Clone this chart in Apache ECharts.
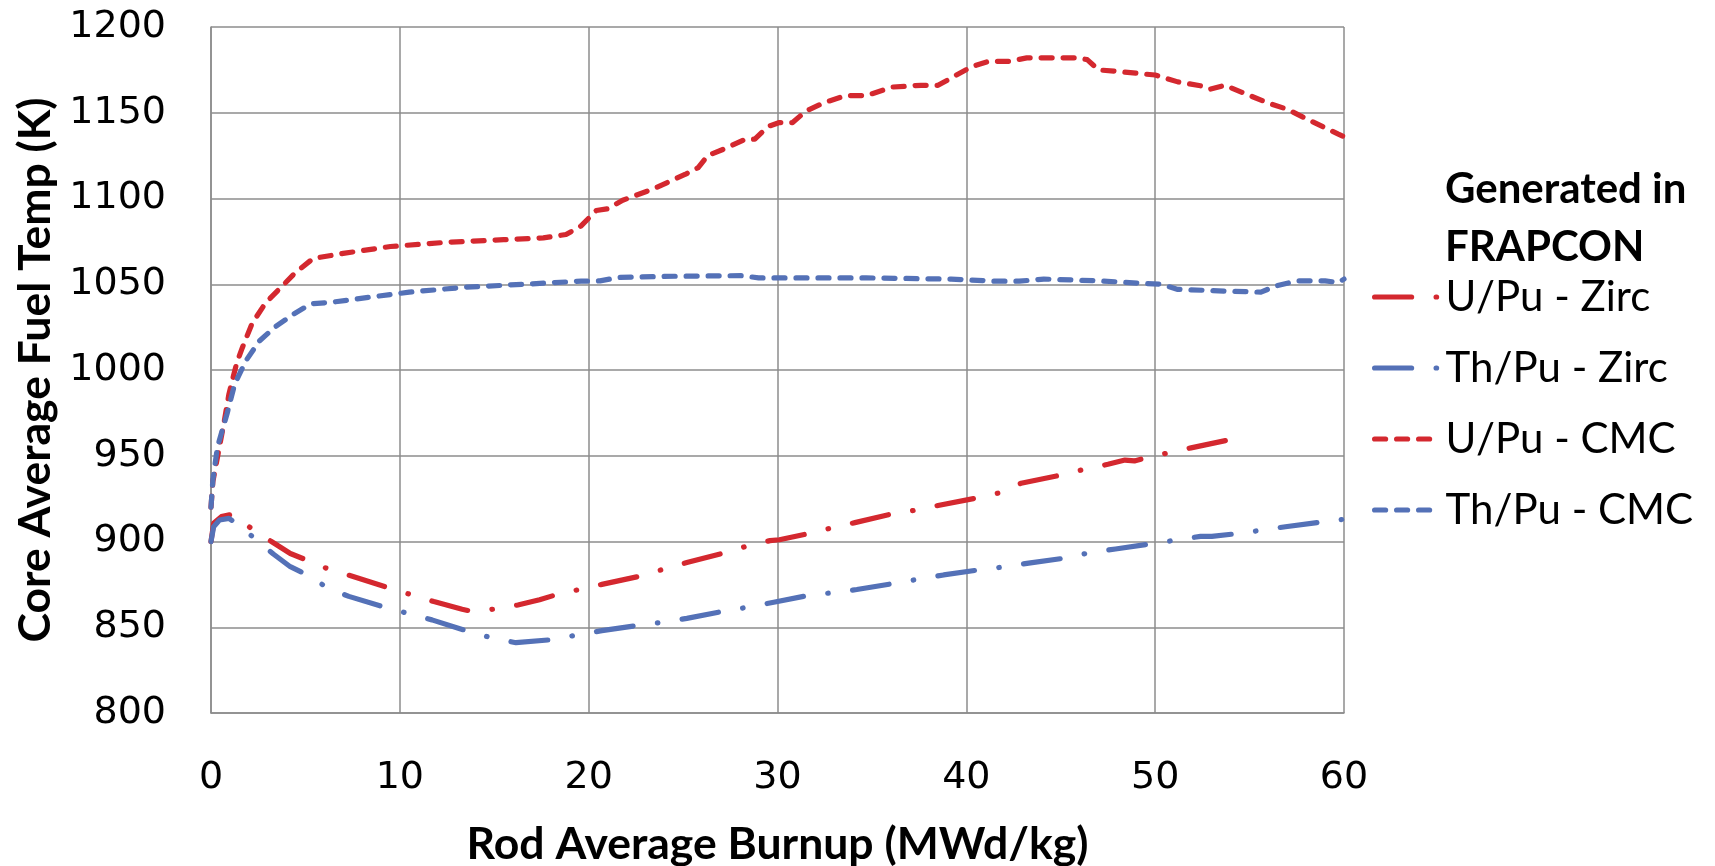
<!DOCTYPE html>
<html>
<head>
<meta charset="utf-8">
<script src="https://cdn.jsdelivr.net/npm/echarts@6/dist/echarts.min.js"></script>
<style>
html,body{margin:0;padding:0;background:#fff;}
#c{width:1715px;height:866px;}
</style>
</head>
<body>
<div id="c"></div>
<script>
// ---- data ----
const seriesNames = ['U/Pu - Zirc', 'Th/Pu - Zirc', 'U/Pu - CMC', 'Th/Pu - CMC'];
const legendTitle = 'Generated in\nFRAPCON';
const xTitle = 'Rod Average Burnup (MWd/kg)';
const yTitle = 'Core Average Fuel Temp (K)';

const upuZircX = [0, 0.14, 0.55, 1.15, 1.4, 2.2, 3.2, 4.2, 5.1, 6.2, 7.4, 9.5, 10.6, 11.8, 13.3, 13.8, 15.1, 16.25, 17.4, 18.4, 19.5, 20.7, 22.8, 24.0, 25.2, 27.3, 28.4, 29.6, 30.1, 31.7, 32.9, 34.1, 36.2, 37.4, 38.5, 40.7, 41.8, 42.9, 45.0, 46.2, 47.5, 48.4, 48.9, 49.6, 50.7, 51.9, 54.0];
const upuZircY = [900, 910.6, 914.5, 916, 914, 907, 900, 893, 889, 884, 880, 872.7, 869, 865, 860.5, 859.3, 860.7, 863, 866, 869.4, 872, 875, 880, 884, 887.7, 893.7, 897.4, 900.5, 901, 904.8, 908, 911, 916.5, 918.4, 921, 925.7, 928.5, 934, 938.7, 942, 945, 947.5, 947, 949, 951.7, 954.6, 959.5];

const thpuZircX = [0, 0.14, 0.45, 0.95, 1.46, 2.4, 3.3, 4.2, 5.2, 6.2, 7.3, 9.4, 10.6, 11.7, 13.8, 15.0, 16.15, 18.3, 19.45, 20.7, 22.8, 24.0, 25.2, 27.3, 28.5, 29.8, 31.8, 33.0, 34.2, 36.4, 37.6, 38.8, 40.9, 42.1, 43.3, 45.4, 46.6, 47.9, 50.0, 51.2, 52.4, 53.0, 54.5, 55.7, 56.9, 59.0, 60];
const thpuZircY = [900, 908.6, 912.5, 913.5, 909.6, 901, 892.7, 885.3, 880, 872.7, 868, 861, 857.6, 854.3, 847, 843.4, 841, 843, 845.7, 848, 851.4, 853, 855.2, 859.7, 861.8, 864.6, 868.9, 870.2, 872, 876, 878.3, 880.5, 883.8, 885.3, 887.4, 890.6, 893.7, 895.6, 899, 901, 903, 903, 904.8, 906.7, 908.6, 911.6, 913];

const upuCmcX = [0, 0.1, 0.34, 0.7, 0.95, 1.36, 1.66, 2.17, 2.88, 3.69, 4.4, 5.4, 7.0, 9.5, 12.5, 15.5, 17.6, 18.8, 19.6, 20.4, 21.0, 21.8, 23.4, 25.1, 25.8, 26.3, 27.2, 28.3, 28.8, 29.5, 30.1, 30.8, 31.5, 32.5, 33.6, 34.7, 36.1, 37.6, 38.5, 39.4, 40.3, 41.2, 42.3, 43.2, 45.9, 46.4, 47.0, 48.1, 49.5, 50.0, 51.2, 52.4, 52.9, 53.7, 54.8, 55.9, 57.0, 58.1, 59.7, 60];
const upuCmcY = [920, 935, 949, 970, 986, 1004, 1013, 1027, 1039, 1048, 1056, 1065, 1068, 1072, 1074.5, 1076, 1077, 1079, 1084, 1093, 1094, 1099, 1105.5, 1114, 1118, 1125, 1129, 1134.6, 1134.6, 1142, 1144.3, 1144.3, 1151, 1156, 1160, 1160, 1165, 1166, 1166, 1171.5, 1177, 1180, 1180, 1182, 1182, 1181, 1175, 1174, 1172.5, 1172, 1168, 1165.7, 1163.7, 1166, 1161, 1156, 1152, 1146, 1137.5, 1136];

const thpuCmcX = [0, 0.1, 0.34, 0.6, 0.85, 1.26, 1.86, 2.57, 3.38, 4.4, 5.3, 6.4, 8.45, 10.5, 13.5, 16.6, 19.6, 20.6, 21.6, 24.7, 28.1, 29.0, 34.7, 39.2, 41.4, 42.8, 44.1, 47.0, 49.2, 50.3, 51.2, 53.7, 55.6, 56.4, 57.5, 59.0, 59.7, 60];
const thpuCmcY = [920, 936, 955, 965, 974.5, 992, 1005.6, 1017, 1025, 1032.8, 1038.6, 1039.5, 1042.5, 1045.4, 1048.3, 1050, 1051.8, 1052, 1054, 1054.7, 1055, 1053.7, 1053.7, 1053, 1051.8, 1051.8, 1053, 1052, 1050.6, 1050, 1047, 1046, 1045.4, 1049, 1052, 1052, 1051, 1053];

// ---- build ----
const RED = '#d4282f', BLUE = '#5471b7';
const LW = 5.2;
const zip = (xs, ys) => xs.map((x, i) => [x, ys[i]]);
const dashDot = [37, 24.5, 0.5, 24.5];
const dash = [11, 11];

function mk(name, xs, ys, color, type) {
  return {
    name, type: 'line', data: zip(xs, ys), symbol: 'none', smooth: false,
    lineStyle: { color, width: LW, type, cap: 'round', join: 'round' },
    itemStyle: { color }
  };
}

const chart = echarts.init(document.getElementById('c'));
chart.setOption({
  animation: false,
  backgroundColor: '#fff',
  grid: { left: 211, right: 371, top: 27, bottom: 153, containLabel: false, outerBoundsMode: 'none' },
  title: {
    text: legendTitle, left: 1440, top: 155,
    textStyle: { fontFamily: 'Lato', fontWeight: 'bold', fontSize: 42, lineHeight: 58, color: '#000' }
  },
  legend: {
    orient: 'vertical', left: 1367, top: 267,
    data: seriesNames,
    itemWidth: 66, itemHeight: 20, itemGap: 21,
    itemStyle: { opacity: 0, color: 'rgba(0,0,0,0)', borderWidth: 0 },
    lineStyle: { width: LW, cap: 'round' },
    textStyle: { fontFamily: 'Lato', fontSize: 42, lineHeight: 50, color: '#000', padding: [0, 0, 0, 0] }
  },
  xAxis: {
    type: 'value', min: 0, max: 60, interval: 10,
    name: xTitle, nameLocation: 'middle', nameGap: 109,
    nameTextStyle: { fontFamily: 'Lato', fontWeight: 'bold', fontSize: 44.5, color: '#000' },
    axisLine: { lineStyle: { color: '#8c8c8c', width: 1.5 } },
    axisTick: { show: false },
    axisLabel: { fontFamily: 'DejaVu Sans', fontSize: 38, color: '#000', margin: 46, formatter: v => String(v) },
    splitLine: { show: true, lineStyle: { color: '#8c8c8c', width: 1.5 } }
  },
  yAxis: {
    type: 'value', min: 800, max: 1200, interval: 50,
    name: yTitle, nameLocation: 'middle', nameGap: 145,
    nameTextStyle: { fontFamily: 'Lato', fontWeight: 'bold', fontSize: 44.5, color: '#000' },
    axisLine: { show: true, lineStyle: { color: '#8c8c8c', width: 1.5 } },
    axisTick: { show: false },
    axisLabel: { fontFamily: 'DejaVu Sans', fontSize: 38, color: '#000', margin: 45, formatter: v => String(v) },
    splitLine: { show: true, lineStyle: { color: '#8c8c8c', width: 1.5 } }
  },
  series: [
    mk(seriesNames[0], upuZircX, upuZircY, RED, dashDot),
    mk(seriesNames[1], thpuZircX, thpuZircY, BLUE, dashDot),
    mk(seriesNames[2], upuCmcX, upuCmcY, RED, dash),
    mk(seriesNames[3], thpuCmcX, thpuCmcY, BLUE, dash)
  ]
});
</script>
</body>
</html>
